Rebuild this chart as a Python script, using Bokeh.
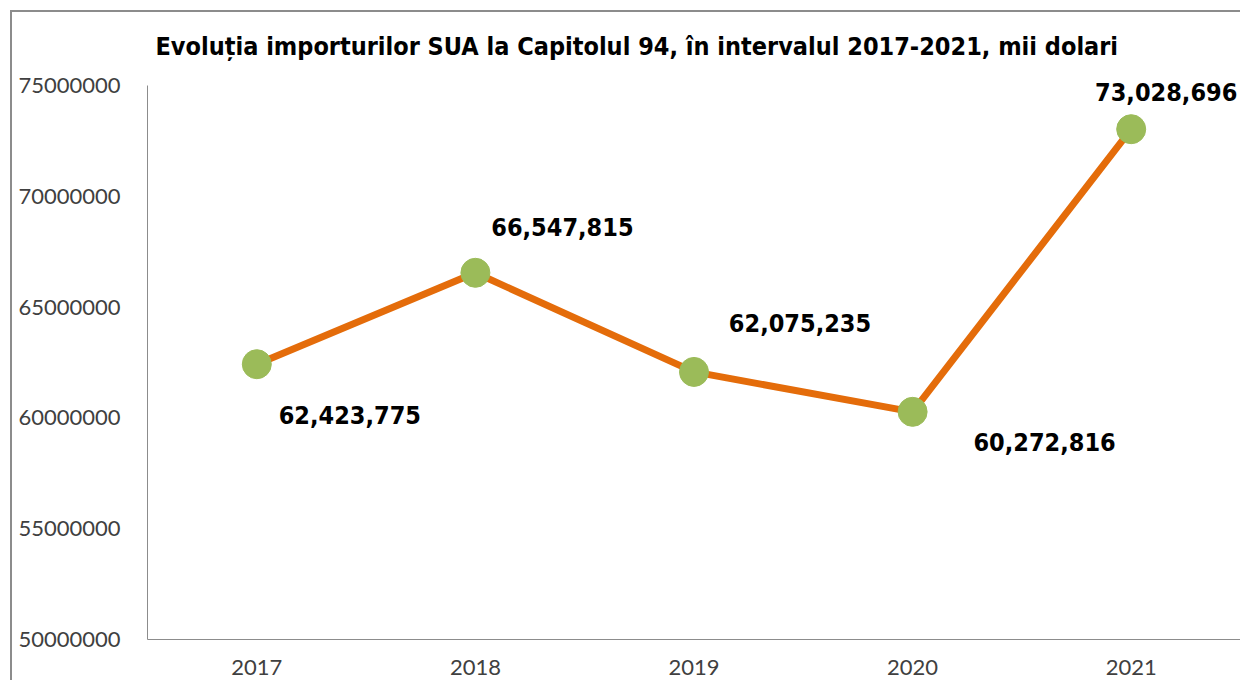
from bokeh.plotting import figure
from bokeh.models import ColumnDataSource, Range1d, FactorRange, Title, FixedTicker, LabelSet
from bokeh.core.properties import value
from bokeh.embed import file_html
from bokeh.resources import INLINE

years = ["2017", "2018", "2019", "2020", "2021"]
imports = [62423775, 66547815, 62075235, 60272816, 73028696]
labels = ["62,423,775", "66,547,815", "62,075,235", "60,272,816", "73,028,696"]
y_ticks = [50000000, 55000000, 60000000, 65000000, 70000000, 75000000]
y_min, y_max = 50000000, 75000000

# label placement (screen px) relative to each point (positive dy = up)
lab_dx = [93, 87, 106, 132, 35]
lab_dy = [-51, 46, 49, -30, 37]

src = ColumnDataSource(dict(x=years, y=imports, t=labels, dx=lab_dx, dy=lab_dy))

# frame extends 15px above the top tick so the top data label is not clipped
px_per_unit = 554 / (y_max - y_min)
extra_top = 15 / px_per_unit

p = figure(width=1230, height=670, output_backend="svg", toolbar_location=None,
           x_range=FactorRange(*years, range_padding=0),
           y_range=Range1d(y_min, y_max + extra_top),
           min_border_left=135, min_border_top=58, min_border_right=2, min_border_bottom=43)
p.styles = {"margin-left": "10px", "margin-top": "10px",
            "border-left": "2px solid #8c8c8c", "border-top": "2px solid #8c8c8c"}
p.title = None
t = Title(text="Evoluția importurilor SUA la Capitolul 94, în intervalul 2017-2021, mii dolari",
          align="left", text_font="DejaVu Sans Condensed", text_font_style="bold",
          text_font_size="25px", text_color="#000000", offset=8, standoff=20)
p.add_layout(t, "above")

p.outline_line_color = None
p.xgrid.visible = False
p.ygrid.visible = False

p.yaxis.ticker = FixedTicker(ticks=y_ticks)
p.yaxis.bounds = (y_min, y_max)
p.yaxis.formatter.use_scientific = False
for ax in (p.xaxis, p.yaxis):
    ax.axis_line_color = "#8c8c8c"
    ax.axis_line_width = 1
    ax.major_tick_line_color = None
    ax.minor_tick_line_color = None
    ax.major_label_text_font = "Lato"
    ax.major_label_text_font_size = "22px"
    ax.major_label_text_color = "#404040"
p.yaxis.major_label_standoff = 21
p.xaxis.major_label_standoff = 14

p.line("x", "y", source=src, line_color="#E46C0A", line_width=7)
p.scatter("x", "y", source=src, size=29, fill_color="#9BBB59", line_color="#9BBB59")
p.add_layout(LabelSet(x="x", y="y", text="t", source=src, x_offset="dx", y_offset="dy",
                      text_align="center", text_baseline="middle",
                      text_font=value("DejaVu Sans Condensed"), text_font_style="bold",
                      text_font_size="25px", text_color="#000000"))

open("out.html", "w").write(file_html(p, INLINE))
